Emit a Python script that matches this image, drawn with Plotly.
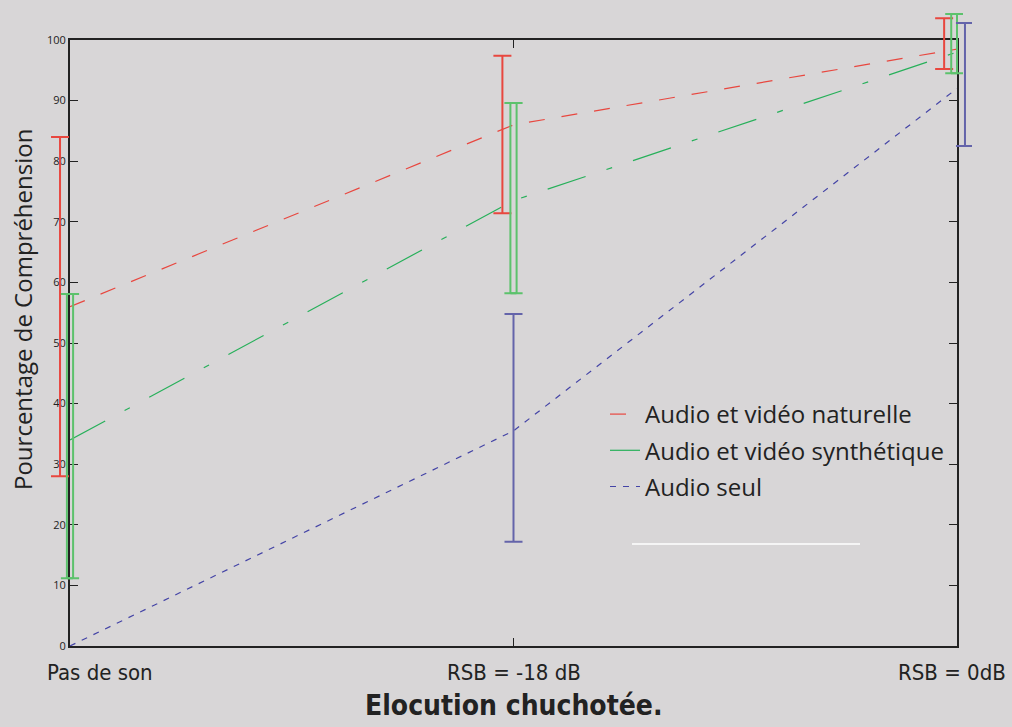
import plotly.graph_objects as go

# Données
conditions = ["Pas de son", "RSB = -18 dB", "RSB = 0dB"]
x_pos = [0, 1, 2]

naturelle = [56, 86, 98.5]
synthetique = [34, 73.5, 98]
audio_seul = [0, 35.5, 92]

# barres d'erreur (bas, haut)
nat_bas = [28, 71.4, 95.2]
nat_haut = [84, 97.4, 103.6]
syn_bas = [11.2, 58.2, 94.5]
syn_haut = [58.1, 89.6, 104.3]
seul_x = [1, 2]
seul_bas = [17.2, 82.5]
seul_haut = [54.8, 102.8]

# décalages horizontaux des barres d'erreur (unités x)
dec_nat = [-0.0225, -0.025, -0.029]
dec_syn_a = [-0.007, -0.007, -0.013]
dec_syn_b = [0.007, 0.007, 0.0]
dec_seul = [0.0, 0.018]

ROUGE = "#e8473f"
VERT = "#27b05a"
VERT_EB = "#5cc26c"
BLEU = "#4444a6"
BLEU_EB = "#6464aa"
FOND = "#d8d6d7"
POLICE_ETROITE = "DejaVu Sans Condensed, Liberation Sans Narrow, DejaVu Sans, sans-serif"

# mise en page (pixels)
W, H = 1012, 727
M_L, M_R, M_T, M_B = 40, 40, 5, 81
P_L, P_R, P_T, P_B = 70, 957, 40, 646   # cadre du graphique principal
pw, ph = W - M_L - M_R, H - M_T - M_B
px_x = (P_R - P_L) / 2.0
px_y = (P_B - P_T) / 100.0
dom_x = [(P_L - M_L) / pw, (P_R - M_L) / pw]
dom_y = [(H - M_B - P_B) / ph, (H - M_B - P_T) / ph]
# axes secondaires (sans clipping au cadre) pour les barres d'erreur
rng_x2 = [(M_L - P_L) / px_x, (W - M_R - P_L) / px_x]
rng_y2 = [(P_B - (H - M_B)) / px_y, (P_B - M_T) / px_y]


def px2paper(x, y):
    return (x - M_L) / pw, (H - M_B - y) / ph


def barre(xs, decal, bas, haut, couleur, largeur):
    mid = [(b + h) / 2 for b, h in zip(bas, haut)]
    demi = [(h - b) / 2 for b, h in zip(bas, haut)]
    return go.Scatter(
        x=[x + d for x, d in zip(xs, decal)], y=mid, mode="markers", xaxis="x2", yaxis="y2",
        marker=dict(size=1, color="rgba(0,0,0,0)"),
        error_y=dict(type="data", array=demi, arrayminus=demi, symmetric=False,
                     color=couleur, thickness=2, width=largeur),
        showlegend=False, hoverinfo="skip",
    )


fig = go.Figure()

fig.add_trace(go.Scatter(x=x_pos, y=naturelle, mode="lines", name="Audio et vidéo naturelle",
                         line=dict(color=ROUGE, width=1.2, dash="16px,17px"), legendgroup="a"))
fig.add_trace(go.Scatter(x=x_pos, y=synthetique, mode="lines", name="Audio et vidéo synthétique",
                         line=dict(color=VERT, width=1.2, dash="40px,22px,6px,22px"), legendgroup="b"))
fig.add_trace(go.Scatter(x=x_pos, y=audio_seul, mode="lines", name="Audio seul",
                         line=dict(color=BLEU, width=1.2, dash="6px,7px"), legendgroup="c"))

fig.add_trace(barre(x_pos, dec_nat, nat_bas, nat_haut, ROUGE, 9))
fig.add_trace(barre(x_pos, dec_syn_a, syn_bas, syn_haut, VERT_EB, 6))
fig.add_trace(barre(x_pos, dec_syn_b, syn_bas, syn_haut, VERT_EB, 6))
fig.add_trace(barre(seul_x, dec_seul, seul_bas, seul_haut, BLEU_EB, 9))

# libellés des conditions
for x, txt, ancre, dx in zip(x_pos, conditions, ["left", "center", "right"], [-25, 0, 51]):
    fig.add_annotation(x=x, y=0, xref="x", yref="y", text=txt, showarrow=False,
                       xanchor=ancre, yanchor="top", yshift=-12, xshift=dx,
                       font=dict(family=POLICE_ETROITE, size=22, color="#222"))

# titre de l'axe y
ty_x, ty_y = px2paper(22, 310)
fig.add_annotation(x=ty_x, y=ty_y, xref="paper", yref="paper", text="Pourcentage de Compréhension",
                   textangle=-90, showarrow=False, xanchor="center", yanchor="middle",
                   font=dict(size=24, color="#222"))

# titre de l'axe x
tx_x, tx_y = px2paper(513, 705)
fig.add_annotation(x=tx_x, y=tx_y, xref="paper", yref="paper", text="<b>Elocution chuchotée.</b>",
                   showarrow=False, xanchor="center", yanchor="middle",
                   font=dict(family=POLICE_ETROITE, size=28, color="#222"))

# trait blanc sous la légende
lx0, ly = px2paper(632, 544)
lx1, _ = px2paper(860, 544)
fig.add_shape(type="line", xref="paper", yref="paper", x0=lx0, x1=lx1, y0=ly, y1=ly,
              line=dict(color="white", width=1.5))

leg_x, leg_y = px2paper(605, 392)
fig.update_layout(
    template="none",
    width=W, height=H,
    margin=dict(l=M_L, r=M_R, t=M_T, b=M_B, autoexpand=False),
    paper_bgcolor=FOND, plot_bgcolor="rgba(0,0,0,0)",
    font=dict(family="Open Sans, sans-serif", color="#222"),
    legend=dict(x=leg_x, y=leg_y, xanchor="left", yanchor="top", bgcolor="rgba(0,0,0,0)",
                font=dict(size=24, color="#222"), tracegroupgap=2, traceorder="grouped"),
    showlegend=True,
    xaxis=dict(domain=dom_x, range=[0, 2], anchor="y", tickvals=x_pos, automargin=False,
               ticktext=["", "", ""], ticks="inside", ticklen=8,
               tickcolor="#222", showgrid=False, zeroline=False, showline=True, linecolor="#222",
               linewidth=2, mirror="ticks"),
    yaxis=dict(domain=dom_y, range=[0, 100], anchor="x", dtick=10, ticks="inside",
               ticklen=8, tickcolor="#222", automargin=False,
               showgrid=False, zeroline=False, showline=True, linecolor="#222", linewidth=2,
               mirror="ticks", tickfont=dict(size=11, color="#222")),
    xaxis2=dict(domain=[0, 1], range=rng_x2, anchor="y2", visible=False, automargin=False),
    yaxis2=dict(domain=[0, 1], range=rng_y2, anchor="x2", visible=False, automargin=False),
)

fig.write_html("out.html", config={"displayModeBar": False},
               post_script="document.body.style.margin='0';")
